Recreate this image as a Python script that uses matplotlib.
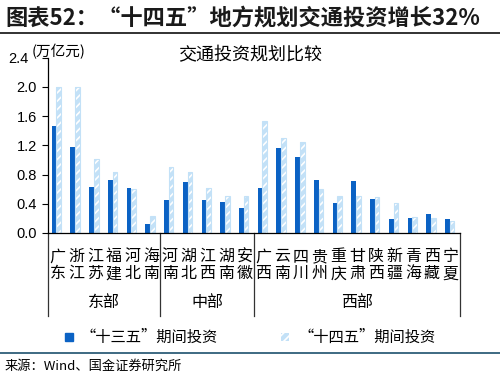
import matplotlib
matplotlib.use("Agg")
import matplotlib.pyplot as plt
from matplotlib.patches import Rectangle
from matplotlib.lines import Line2D
import matplotlib.transforms as mtransforms

plt.rcParams['font.family'] = ['Noto Sans CJK SC', 'DejaVu Sans']
plt.rcParams['hatch.linewidth'] = 1.2

provinces = ["广东", "浙江", "江苏", "福建", "河北", "海南",
             "河南", "湖北", "江西", "湖南", "安徽",
             "广西", "云南", "四川", "贵州", "重庆", "甘肃", "陕西", "新疆", "青海", "西藏", "宁夏"]
groups = ["东部", "中部", "西部"]
group_sizes = [6, 5, 11]
plan13 = [1.47, 1.18, 0.63, 0.73, 0.61, 0.12,
          0.45, 0.70, 0.45, 0.42, 0.34,
          0.61, 1.16, 1.04, 0.73, 0.41, 0.71, 0.47, 0.19, 0.20, 0.26, 0.19]
plan14 = [2.00, 2.00, 1.01, 0.84, 0.60, 0.23,
          0.90, 0.83, 0.61, 0.51, 0.51,
          1.53, 1.30, 1.25, 0.60, 0.51, 0.51, 0.50, 0.41, 0.22, 0.20, 0.17]
yticks = [0.0, 0.4, 0.8, 1.2, 1.6, 2.0, 2.4]
series_names = ["“十三五”期间投资", "“十四五”期间投资"]

dark = '#0B62C4'
light = '#C3E1F7'

fig = plt.figure(figsize=(5.0, 3.78), dpi=100)
W, H = 500, 378
ax = fig.add_axes([48 / W, 1 - 233 / H, 412 / W, (233 - 57.8) / H])

n = len(provinces)
x = list(range(n))
bw = 0.25
ax.bar([i - bw / 2 - 0.05 for i in x], plan13, width=bw, color=dark, linewidth=0)
ax.bar([i + bw / 2 - 0.05 for i in x], plan14, width=bw, color=light, hatch='////',
       edgecolor='white', linewidth=0)
ax.bar([i + bw / 2 - 0.05 for i in x], plan14, width=bw, fill=False,
       edgecolor=light, linewidth=0.8)

ax.set_xlim(-0.5, n - 0.5)
ax.set_ylim(0, 2.4)
ax.set_yticks(yticks)
ax.set_yticklabels([f"{v:.1f}" for v in yticks], family=['Liberation Sans'], fontsize=10.5)
ax.tick_params(axis='y', length=4, width=0.8, direction='out', pad=4)
# shift top label left (as in reference, next to the unit text)
top_lab = ax.get_yticklabels()[-1]
top_lab.set_transform(top_lab.get_transform() + mtransforms.ScaledTranslation(-8 / 100, 0, fig.dpi_scale_trans))
ax.set_xticks(x)
ax.set_xticklabels(["\n".join(p) for p in provinces], fontsize=11.5, linespacing=1.0)
ax.tick_params(axis='x', length=0, pad=11)
for s in ['top', 'right']:
    ax.spines[s].set_visible(False)
ax.spines['left'].set_linewidth(0.9)
ax.spines['bottom'].set_linewidth(0.9)

# group separators and labels
trans = mtransforms.blended_transform_factory(ax.transData, ax.transAxes)
ybot = (233 - 316) / (233 - 57.8)
bounds = [-0.5]
for s in group_sizes:
    bounds.append(bounds[-1] + s)
for b in bounds:
    ax.plot([b, b], [0, ybot], transform=trans, color='#333333', lw=0.9, clip_on=False)
ylab = (233 - 302) / (233 - 57.8)
for g, a, b in zip(groups, bounds[:-1], bounds[1:]):
    ax.text((a + b) / 2, ylab, g, transform=trans, ha='center', va='center', fontsize=11.5)

# titles
fig.text(250 / W, 1 - 55 / H, "交通投资规划比较", ha='center', va='center', fontsize=13)
fig.text(32 / W, 1 - 52 / H, "(万亿元)", ha='left', va='center', fontsize=10.5)
fig.text(5 / W, 1 - 18 / H, "图表52：“十四五”地方规划交通投资增长32%", ha='left', va='center',
         fontsize=16, fontweight='bold', color='#1a1a1a')
fig.add_artist(Line2D([0, 1], [1 - 33 / H, 1 - 33 / H], color='#222222', lw=1.3))

# legend
leg_y = 1 - 337 / H
fig.add_artist(Rectangle((65 / W, leg_y - 4 / H), 8 / W, 8 / H, color=dark, transform=fig.transFigure))
fig.add_artist(Rectangle((281 / W, leg_y - 4 / H), 8 / W, 8 / H, facecolor=light, edgecolor='white',
                         hatch='////', lw=0, transform=fig.transFigure))
fig.text(80 / W, leg_y, series_names[0], ha='left', va='center', fontsize=11)
fig.text(298 / W, leg_y, series_names[1], ha='left', va='center', fontsize=11)

# bottom rule and source
fig.add_artist(Line2D([0, 1], [1 - 353 / H, 1 - 353 / H], color='#2E5E78', lw=1.3))
fig.text(5 / W, 1 - 366 / H, "来源：Wind、国金证券研究所", ha='left', va='center', fontsize=9.5)

fig.savefig("out.png", dpi=100)
